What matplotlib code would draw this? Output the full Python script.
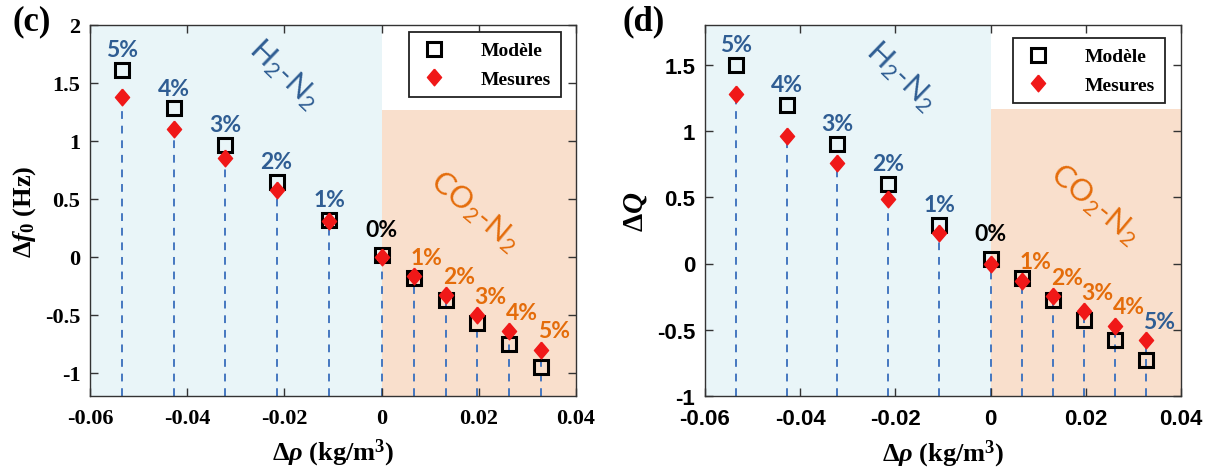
import numpy as np
import matplotlib
matplotlib.use("Agg")
import matplotlib.pyplot as plt
from matplotlib.ticker import FuncFormatter

# donnees
delta_rho = [-0.0535, -0.0428, -0.0322, -0.0216, -0.0108, 0.0,
             0.0066, 0.0132, 0.0197, 0.0262, 0.0327]
pourcent = ["5%", "4%", "3%", "2%", "1%", "0%", "1%", "2%", "3%", "4%", "5%"]
melange = ["H2"] * 5 + ["0"] + ["CO2"] * 5

f0_modele = [1.61, 1.28, 0.965, 0.645, 0.32, 0.015, -0.185, -0.37, -0.57, -0.755, -0.95]
f0_mesures = [1.38, 1.10, 0.85, 0.575, 0.31, 0.003, -0.165, -0.33, -0.50, -0.64, -0.80]
q_modele = [1.50, 1.20, 0.905, 0.60, 0.29, 0.035, -0.11, -0.275, -0.43, -0.575, -0.725]
q_mesures = [1.28, 0.96, 0.755, 0.49, 0.23, 0.0, -0.13, -0.245, -0.36, -0.47, -0.58]

xticks = [-0.06, -0.04, -0.02, 0, 0.02, 0.04]

plt.rcParams['axes.unicode_minus'] = False
plt.rcParams['mathtext.fontset'] = 'custom'
plt.rcParams['mathtext.rm'] = 'Liberation Serif:bold'
plt.rcParams['mathtext.it'] = 'Liberation Serif:italic:bold'
plt.rcParams['mathtext.bf'] = 'Liberation Serif:bold'
plt.rcParams['mathtext.sf'] = 'Lato'

BLEU_TXT = '#2f5d93'
ORANGE_TXT = '#e46c0a'
BLEU_FOND = '#e9f5f8'
PECHE = '#f9dfcc'
TIRETS = '#4577c0'
couleur = {"H2": BLEU_TXT, "0": 'black', "CO2": ORANGE_TXT}
losange = [(0, 1), (0.85, 0), (0, -1), (-0.85, 0), (0, 1)]

fig = plt.figure(figsize=(12.15, 4.77), dpi=100)
ax1 = fig.add_axes([90/1215, 1-397/477, 486/1215, 371/477])
ax2 = fig.add_axes([705/1215, 1-397/477, 476/1215, 371/477])


def panneau(ax, modele, mesures, ylim, yticks, peche_haut, tick_font, pos_h2, pos_co2, leg_anchor, panel):
  ax.axvspan(-0.06, 0, color=BLEU_FOND, zorder=0, lw=0)
  ax.fill_between([0, 0.04], ylim[0], peche_haut, color=PECHE, zorder=0, lw=0)

  for x, m in zip(delta_rho, mesures):
    ax.plot([x, x], [ylim[0], m], ls=(0, (4, 3.5)), color=TIRETS, lw=1.4, zorder=1)

  ax.plot(delta_rho, modele, 's', mfc='none', mec='black', mew=2.2, ms=10.5, zorder=3, label='Modèle')
  ax.plot(delta_rho, mesures, marker=losange, ls='none', color='#f01818', ms=12, zorder=4, label='Mesures')

  for i, (x, m, ms, txt, g) in enumerate(zip(delta_rho, modele, mesures, pourcent, melange)):
    c = couleur[g]
    if panel == 'd' and i == len(delta_rho) - 1:
      c = BLEU_TXT  # comme sur la figure originale
    if g == "CO2":
      ax.annotate(txt, (x, ms), xytext=(-2, 6), textcoords='offset points', ha='left', va='bottom',
                  color=c, fontsize=16.5, fontweight='bold', family='Lato', zorder=5)
    else:
      dy = 11 if g == "0" else 7
      ax.annotate(txt, (x, m), xytext=(0, dy), textcoords='offset points', ha='center', va='bottom',
                  color=c, fontsize=16.5, fontweight='bold', family='Lato', zorder=5)

  ax.text(pos_h2[0], pos_h2[1], r'H$\mathsf{_2}$-N$\mathsf{_2}$', rotation=-44, color=BLEU_TXT,
          fontsize=22, family='Lato', ha='center', va='center', rotation_mode='anchor')
  ax.text(pos_co2[0], pos_co2[1], r'CO$\mathsf{_2}$-N$\mathsf{_2}$', rotation=-40, color=ORANGE_TXT,
          fontsize=22, family='Lato', ha='center', va='center', rotation_mode='anchor')

  ax.set_xlim(-0.06, 0.04)
  ax.set_ylim(*ylim)
  ax.set_xticks(xticks)
  ax.set_yticks(yticks)
  fmt = FuncFormatter(lambda v, p: f"{v:g}")
  ax.xaxis.set_major_formatter(fmt)
  ax.yaxis.set_major_formatter(fmt)
  ax.tick_params(direction='in', top=True, right=True, length=6, width=1, colors='#333333', pad=7)
  ax.tick_params(axis='x', pad=9)
  for lab in ax.get_xticklabels() + ax.get_yticklabels():
    lab.set_family(tick_font)
    lab.set_fontweight('bold')
    lab.set_fontsize(16)
    lab.set_color('black')
  for s in ax.spines.values():
    s.set_color('#333333')
    s.set_linewidth(1)

  ax.set_xlabel(r'$\Delta\rho$ (kg/m$^3$)', family='Liberation Serif', fontweight='bold', fontsize=19, labelpad=6)

  leg = ax.legend(loc='upper right', bbox_to_anchor=leg_anchor, frameon=True, fancybox=False,
                  edgecolor='#222222', framealpha=1, handlelength=1.6, handletextpad=1.6,
                  borderpad=0.5, labelspacing=0.55, borderaxespad=0,
                  prop={'family': 'Liberation Serif', 'weight': 'bold', 'size': 14})
  leg.get_frame().set_linewidth(1.3)


panneau(ax1, f0_modele, f0_mesures, (-1.2, 2), [-1, -0.5, 0, 0.5, 1, 1.5, 2], 1.27,
        'Liberation Serif', (-0.0201, 1.58), (0.0192, 0.40), (0.969, 0.981), 'c')
ax1.set_ylabel(r'$\Delta\it{f}_0$ (Hz)', family='Liberation Serif', fontweight='bold', fontsize=19, labelpad=5)

panneau(ax2, q_modele, q_mesures, (-1, 1.8), [-1, -0.5, 0, 0.5, 1, 1.5], 1.166,
        'Liberation Sans', (-0.0187, 1.42), (0.0219, 0.457), (0.966, 0.965), 'd')
ax2.set_ylabel(r'$\Delta Q$', fontsize=21, labelpad=6)

fig.text(12/1215, 1-22/477, '(c)', family='Liberation Serif', fontweight='bold', fontsize=25, va='center', ha='left')
fig.text(622/1215, 1-22/477, '(d)', family='Liberation Serif', fontweight='bold', fontsize=25, va='center', ha='left')

fig.savefig('out.png', dpi=100)
